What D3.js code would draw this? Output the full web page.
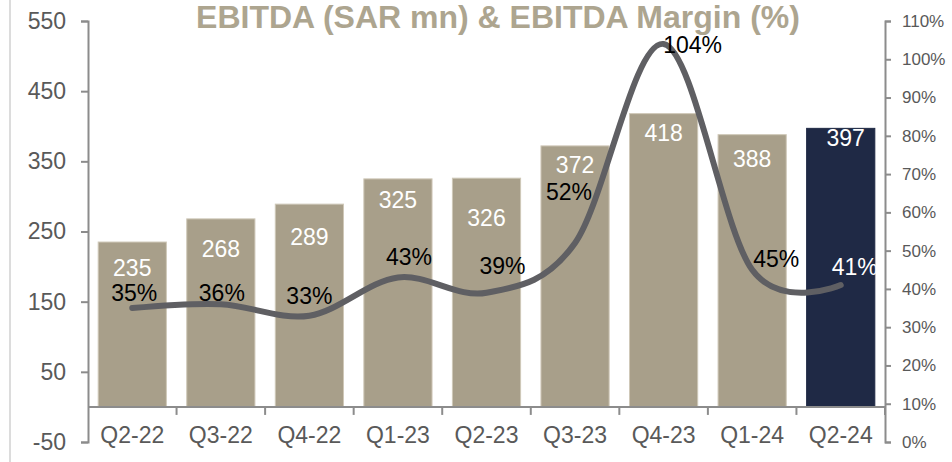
<!DOCTYPE html>
<html>
<head>
<meta charset="utf-8">
<script src="https://cdn.jsdelivr.net/npm/d3@7"></script>
<style>
  body { margin: 0; background: #fff; }
  svg { display: block; font-family: Arial, "Liberation Sans", sans-serif; }
</style>
</head>
<body>
<svg width="952" height="462"></svg>
<script>
const svg = d3.select('svg');
const width = +svg.attr('width');
const height = +svg.attr('height');

// data
const quarters = ['Q2-22', 'Q3-22', 'Q4-22', 'Q1-23', 'Q2-23', 'Q3-23', 'Q4-23', 'Q1-24', 'Q2-24'];
const ebitda = [235, 268, 289, 325, 326, 372, 418, 388, 397];
const margin = [35, 36, 33, 43, 39, 52, 104, 45, 41];
const leftTicks = [-50, 50, 150, 250, 350, 450, 550];
const rightTicks = [0, 10, 20, 30, 40, 50, 60, 70, 80, 90, 100, 110];

// label nudges (layout only), px from the mark
const barLabelDy = [26, 30, 33, 21, 40, 19, 19, 24, 10];
const pctLabelDx = [2, 1, 0, 11, 16, -6, 29, 24, 14];
const pctLabelDy = [-15, -11, -20, -20, -27, -51, 1, -11, -18];

const plot = { left: 88, right: 885, top: 21, bottom: 442 };

const xBand = d3.scaleBand().domain(quarters).range([plot.left, plot.right]);
const xBar = d3.scaleBand().domain(quarters).range([plot.left, plot.right])
  .paddingInner(0.23).paddingOuter(0.115);
const yLeft = d3.scaleLinear().domain([-50, 550]).range([plot.bottom, plot.top]);
const yRight = d3.scaleLinear().domain([0, 110]).range([plot.bottom, plot.top]);

const axisColor = '#8c8c8c';
const textColor = '#595959';

// faint frame line at the left edge
svg.append('line')
  .attr('x1', 10).attr('x2', 10).attr('y1', 0).attr('y2', height)
  .attr('stroke', '#dcdcdc').attr('stroke-width', 2);

// title, tight against the top edge
svg.append('text')
  .attr('x', 498).attr('y', 28)
  .attr('text-anchor', 'middle')
  .attr('font-size', 32).attr('font-weight', 'bold')
  .attr('fill', '#ada58f')
  .text('EBITDA (SAR mn) & EBITDA Margin (%)');

// bars
svg.append('g').selectAll('rect').data(ebitda)
  .enter().append('rect')
    .attr('x', (d, i) => xBar(quarters[i]))
    .attr('y', d => yLeft(d))
    .attr('width', xBar.bandwidth())
    .attr('height', d => yLeft(0) - yLeft(d))
    .attr('fill', (d, i) => i === ebitda.length - 1 ? '#1f2945' : '#a89f8a')
    .attr('stroke', (d, i) => i === ebitda.length - 1 ? '#1f2945' : '#cfc8b8')
    .attr('stroke-width', 1);

// bar value labels
svg.append('g').selectAll('text').data(ebitda)
  .enter().append('text')
    .attr('x', (d, i) => xBand(quarters[i]) + xBand.bandwidth() / 2 + (i === 8 ? 5 : 0))
    .attr('y', (d, i) => yLeft(d) + barLabelDy[i])
    .attr('dy', '0.35em')
    .attr('text-anchor', 'middle')
    .attr('font-size', 23)
    .attr('fill', '#fff')
    .text(d => d);

// axes
const gLeft = svg.append('g')
  .attr('transform', `translate(${plot.left},0)`)
  .call(d3.axisLeft(yLeft).tickValues(leftTicks).tickSize(7).tickSizeOuter(7).tickPadding(15)
    .tickFormat(d => String(d)));
gLeft.selectAll('text').attr('font-size', 23);

const gRight = svg.append('g')
  .attr('transform', `translate(${plot.right},0)`)
  .call(d3.axisRight(yRight).tickValues(rightTicks).tickSize(6).tickSizeOuter(6).tickPadding(11)
    .tickFormat(d => d + '%'));
gRight.selectAll('text').attr('font-size', 17);

// category axis at zero, ticks on band boundaries
const gX = svg.append('g').attr('transform', `translate(0,${yLeft(0)})`);
gX.append('line')
  .attr('x1', plot.left).attr('x2', plot.right)
  .attr('stroke', axisColor).attr('stroke-width', 2);
gX.selectAll('.tick-line').data(quarters.slice(1).map(q => xBand(q)).concat([plot.right]))
  .enter().append('line')
    .attr('x1', d => d).attr('x2', d => d)
    .attr('y1', 0).attr('y2', 8)
    .attr('stroke', axisColor).attr('stroke-width', 2);
gX.selectAll('.xlab').data(quarters)
  .enter().append('text')
    .attr('x', d => xBand(d) + xBand.bandwidth() / 2)
    .attr('y', 36)
    .attr('text-anchor', 'middle')
    .attr('font-size', 23)
    .attr('fill', textColor)
    .text(d => d);

[gLeft, gRight].forEach(g => {
  g.select('.domain').attr('stroke', axisColor).attr('stroke-width', 2);
  g.selectAll('.tick line').attr('stroke', axisColor).attr('stroke-width', 2);
  g.selectAll('text').attr('fill', textColor).attr('font-family', 'Arial, "Liberation Sans", sans-serif');
});

// margin line
const line = d3.line()
  .x((d, i) => xBand(quarters[i]) + xBand.bandwidth() / 2)
  .y(d => yRight(d))
  .curve(d3.curveCardinal.tension(0));

svg.append('path')
  .datum(margin)
  .attr('d', line)
  .attr('fill', 'none')
  .attr('stroke', '#5f5f63')
  .attr('stroke-width', 6)
  .attr('stroke-linecap', 'round');

// clip for the last label, which is cut at the bar edge in the reference
svg.append('clipPath').attr('id', 'plotclip')
  .append('rect')
    .attr('x', 0).attr('y', 0)
    .attr('width', xBar(quarters[8]) + xBar.bandwidth() + 1).attr('height', height);

// margin labels
svg.append('g').attr('clip-path', 'url(#plotclip)')
  .selectAll('text').data(margin)
  .enter().append('text')
    .attr('x', (d, i) => xBand(quarters[i]) + xBand.bandwidth() / 2 + pctLabelDx[i])
    .attr('y', (d, i) => yRight(d) + pctLabelDy[i])
    .attr('dy', '0.35em')
    .attr('text-anchor', 'middle')
    .attr('font-size', 23)
    .attr('fill', (d, i) => i === margin.length - 1 ? '#fff' : '#000')
    .text(d => d + '%');
</script>
</body>
</html>
